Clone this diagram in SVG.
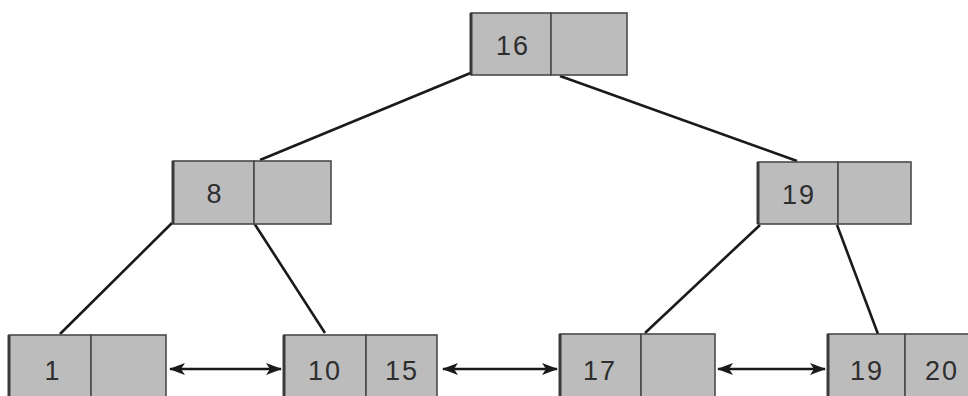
<svg xmlns="http://www.w3.org/2000/svg" width="968" height="396" viewBox="0 0 968 396">
<defs>
<style>
.cell{fill:#bcbcbc;stroke:#4a4a4a;stroke-width:1.6}
.edge{stroke:#3a3a3a;stroke-width:3}
.lbl{font-family:"Liberation Sans",Arial,sans-serif;font-size:27px;fill:#2e2e2e;text-anchor:middle;letter-spacing:2px}
.conn{stroke:#1a1a1a;stroke-width:2.6;fill:none}
.ptr{stroke:#1a1a1a;stroke-width:2.6;fill:none;marker-start:url(#ah);marker-end:url(#ah)}
</style>
<marker id="ah" viewBox="0 0 16 12" refX="15" refY="6" markerWidth="16" markerHeight="12" markerUnits="userSpaceOnUse" orient="auto-start-reverse">
<path d="M0,0 L16,6 L0,12 L4,6 Z" fill="#1a1a1a"/>
</marker>
</defs>
<rect width="968" height="396" fill="#ffffff"/>
<g id="connectors">
<line class="conn" x1="473" y1="72" x2="260" y2="160"/>
<line class="conn" x1="560" y1="76" x2="797" y2="161"/>
<line class="conn" x1="172" y1="223" x2="60" y2="334"/>
<line class="conn" x1="254" y1="223" x2="325" y2="333"/>
<line class="conn" x1="760" y1="225" x2="645" y2="333"/>
<line class="conn" x1="837" y1="225" x2="878" y2="334"/>
<line class="ptr" x1="170" y1="369" x2="281" y2="369"/>
<line class="ptr" x1="443" y1="369" x2="557" y2="369"/>
<line class="ptr" x1="718" y1="369" x2="825" y2="369"/>
</g>
<g id="node-root">
<rect class="cell" x="471" y="13" width="80" height="62"/>
<rect class="cell" x="551" y="13" width="76" height="62"/>
<line class="edge" x1="471" y1="13" x2="471" y2="75"/>
<text class="lbl" x="513" y="55">16</text>
</g>
<g id="node-8">
<rect class="cell" x="173" y="161" width="81" height="63"/>
<rect class="cell" x="254" y="161" width="77" height="63"/>
<line class="edge" x1="173" y1="161" x2="173" y2="224"/>
<text class="lbl" x="215" y="203">8</text>
</g>
<g id="node-19">
<rect class="cell" x="758" y="162" width="80" height="62"/>
<rect class="cell" x="838" y="162" width="73" height="62"/>
<line class="edge" x1="758" y1="162" x2="758" y2="224"/>
<text class="lbl" x="799" y="204">19</text>
</g>
<g id="leaf-1">
<rect class="cell" x="9" y="335" width="82" height="64"/>
<rect class="cell" x="91" y="335" width="75" height="64"/>
<line class="edge" x1="9" y1="335" x2="9" y2="399"/>
<text class="lbl" x="53" y="380">1</text>
</g>
<g id="leaf-10-15">
<rect class="cell" x="284" y="335" width="82" height="64"/>
<rect class="cell" x="366" y="335" width="71" height="64"/>
<line class="edge" x1="284" y1="335" x2="284" y2="399"/>
<text class="lbl" x="325" y="380">10</text>
<text class="lbl" x="402" y="380">15</text>
</g>
<g id="leaf-17">
<rect class="cell" x="560" y="334" width="81" height="64"/>
<rect class="cell" x="641" y="334" width="74" height="64"/>
<line class="edge" x1="560" y1="334" x2="560" y2="398"/>
<text class="lbl" x="600" y="380">17</text>
</g>
<g id="leaf-19-20">
<rect class="cell" x="828" y="334" width="77" height="64"/>
<rect class="cell" x="905" y="334" width="70" height="64"/>
<line class="edge" x1="828" y1="334" x2="828" y2="398"/>
<text class="lbl" x="867" y="380">19</text>
<text class="lbl" x="942" y="380">20</text>
</g>
</svg>
